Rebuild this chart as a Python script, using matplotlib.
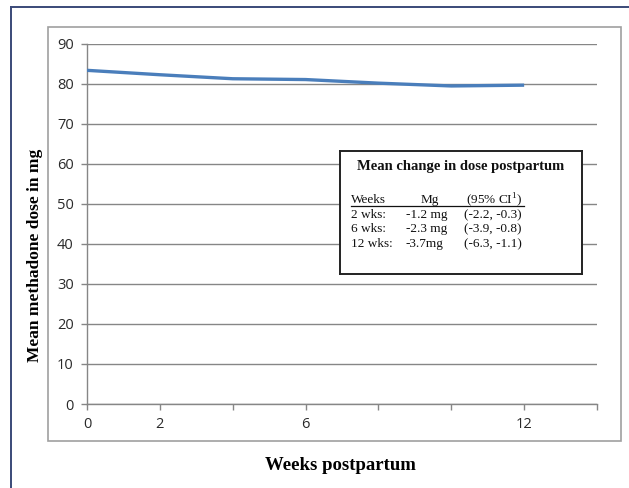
import matplotlib
matplotlib.use("Agg")
import matplotlib.pyplot as plt
from matplotlib.patches import Rectangle
from matplotlib.lines import Line2D

plt.rcParams['mathtext.fontset'] = 'custom'
plt.rcParams['mathtext.rm'] = 'Liberation Serif'

# Mean methadone dose by week postpartum
weeks = [0, 2, 4, 6, 8, 10, 12]
mean_dose = [83.3, 82.2, 81.2, 81.0, 80.1, 79.4, 79.6]

x_ticks = [0, 2, 4, 6, 8, 10, 12, 14]
x_tick_labels = ["0", "2", "", "6", "", "", "12", ""]
y_ticks = [0, 10, 20, 30, 40, 50, 60, 70, 80, 90]

# Inset summary table
box_title = "Mean change in dose postpartum"
table_header = ["Weeks", "Mg", "(95% CI$^{1}$)"]
table_weeks = ["2 wks:", "6 wks:", "12 wks:"]
table_mg = ["-1.2 mg", "-2.3 mg", "-3.7mg"]
table_ci = ["(-2.2, -0.3)", "(-3.9, -0.8)", "(-6.3, -1.1)"]

W, H = 629, 488
fig = plt.figure(figsize=(W / 100, H / 100), dpi=100)
fig.patch.set_facecolor("white")


def px_rect(x0, y0, x1, y1):
    """Pixel box (top-left origin) -> figure fraction [l, b, w, h]."""
    return [x0 / W, 1 - y1 / H, (x1 - x0) / W, (y1 - y0) / H]


# Outer page frame and inner chart frame
fig.add_artist(Line2D([11 / W, 11 / W], [0, 1 - 7 / H], transform=fig.transFigure,
                      color="#3a4a78", lw=1.4))
fig.add_artist(Line2D([11 / W, 1], [1 - 7 / H, 1 - 7 / H], transform=fig.transFigure,
                      color="#3a4a78", lw=1.4))
fig.add_artist(Rectangle((48 / W, 1 - 441 / H), (621 - 48) / W, (441 - 27) / H,
                         transform=fig.transFigure, fill=False, edgecolor="#a0a0a0", lw=1.2))

ax = fig.add_axes(px_rect(87, 43.5, 597, 404))
ax.plot(weeks, mean_dose, color="#4a7ebb", lw=2.4, solid_capstyle="butt", zorder=3)
ax.set_xlim(0, 14)
ax.set_ylim(0, 90)
ax.set_xticks(x_ticks)
ax.set_xticklabels(x_tick_labels)
ax.set_yticks(y_ticks)
ax.grid(axis="y", color="#868686", lw=1.0)
ax.set_axisbelow(True)
for s in ("top", "right"):
    ax.spines[s].set_visible(False)
for s in ("left", "bottom"):
    ax.spines[s].set_color("#868686")
    ax.spines[s].set_linewidth(1.0)
ax.tick_params(axis="both", colors="#868686", labelcolor="#2a2a2a", length=4.5, width=1,
               labelsize=10.5, direction="out")
ax.tick_params(axis="x", pad=5)
ax.tick_params(axis="y", pad=5)
for lab in ax.get_xticklabels() + ax.get_yticklabels():
    lab.set_family("Open Sans")

fig.text(35.5 / W, 1 - 255 / H, "Mean methadone dose in mg", rotation=90, ha="center",
         va="center", family="Liberation Serif", weight="bold", fontsize=12.5)
fig.text(340 / W, 1 - 466 / H, "Weeks postpartum", ha="center", va="center",
         family="Liberation Serif", weight="bold", fontsize=13.5)

# Summary box, laid out in pixel units
bx0, by0, bx1, by1 = 340, 151, 582, 274
bax = fig.add_axes(px_rect(bx0, by0, bx1, by1))
bax.set_xlim(bx0, bx1)
bax.set_ylim(by1, by0)
bax.set_facecolor("white")
bax.set_xticks([])
bax.set_yticks([])
for s in bax.spines.values():
    s.set_color("#222222")
    s.set_linewidth(1.4)

serif = dict(family="Liberation Serif", color="#111111")
bax.text(461, 167, box_title, ha="center", va="center", weight="bold", fontsize=10.5, **serif)
row_y = [200, 215, 229.5, 244]
bax.text(351, row_y[0], table_header[0], ha="left", va="center", fontsize=9.5, **serif)
bax.text(430, row_y[0], table_header[1], ha="center", va="center", fontsize=9.5, **serif)
bax.text(466, row_y[0], table_header[2], ha="left", va="center", fontsize=9.5, **serif)
bax.plot([351, 524], [206, 206], color="#111111", lw=0.9)
for i in range(3):
    y = row_y[i + 1]
    bax.text(351, y, table_weeks[i], ha="left", va="center", fontsize=9.5, **serif)
    bax.text(406, y, table_mg[i], ha="left", va="center", fontsize=9.5, **serif)
    bax.text(464, y, table_ci[i], ha="left", va="center", fontsize=9.5, **serif)

fig.savefig("out.png", dpi=100)
